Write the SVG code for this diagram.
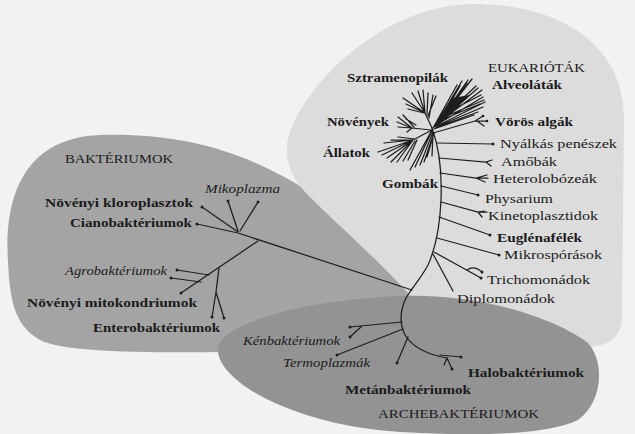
<svg xmlns="http://www.w3.org/2000/svg" width="635" height="434" viewBox="0 0 635 434">
<style>
text{font-family:"Liberation Serif","DejaVu Serif",serif;font-size:13.5px;fill:#1b1b1b}
.b{font-weight:bold}
.i{font-style:italic}
.t{fill:none;stroke:#1e1e1e;stroke-width:1.25;stroke-linecap:round}
.d{fill:#1e1e1e}
</style>
<rect width="635" height="434" fill="#f2f2f2"/>
<g id="bakteriumok-blob"><path d="M8,262 C4,200 22,138 100,135 C180,133 240,150 300,186 L440,300 L420,365 L230,352 C140,353 62,352 40,340 C14,325 10,300 8,262 Z" fill="#a4a4a4"/></g>
<g id="eukariotak-blob"><path d="M287,150 C285,110 365,8 470,4 C560,3 625,45 624,120 L622,318 C621,338 608,347 585,347 L470,335 L420,315 L407,292 C370,252 330,218 305,192 C292,178 287,165 287,150 Z" fill="#dcdcdc"/></g>
<g id="archebakteriumok-blob"><path d="M218,352 C214,325 300,300 400,296 C480,293 555,318 588,343 C605,362 603,402 578,420 C545,436 470,436 400,432 C300,426 222,385 218,352 Z" fill="#939393"/></g>

<g id="connectors">
<path class="t" d="M197,224 L238,233 L412,290"/>
<path class="t" d="M202,207 L238,232"/>
<path class="t" d="M228,201 L238,231 M258,202 L240,231"/>
<path class="t" d="M258,241 L181,293"/>
<path class="t" d="M177,270 L209,275 M171,278 L201,282"/>
<path class="t" d="M219,268 L216,292 L212,317 M216,292 L224,318"/>
<path class="t" d="M432,128 C440,150 442,175 441,200 C440,225 437,245 428,265 C420,280 410,290 405,300 C400,312 400,325 405,335 C413,348 430,355 447,358"/>
<path class="t" d="M437,143 L493,144"/>
<path class="t" d="M439,158 L486,162 L492,160 M486,162 L491,166"/>
<path class="t" d="M440,173 L476,178 L487,175 M476,178 L488,178 M476,178 L485,182"/>
<path class="t" d="M441,186 L478,195"/>
<path class="t" d="M441,202 L478,212 L484,211 M478,212 L482,217 M480,212 L487,212"/>
<path class="t" d="M439,217 L490,235"/>
<path class="t" d="M437,238 L499,255"/>
<path class="t" d="M434,252 L481,278 M467,270 Q474,265 482,272"/>
<path class="t" d="M433,254 L453,291"/>
<path class="t" d="M402,322 L350,327 M362,326 L350,337"/>
<path class="t" d="M403,329 L337,355"/>
<path class="t" d="M408,337 L397,363"/>
<path class="t" d="M440,355 L461,357 M447,358 L452,369 M447,358 L444,365"/>
<path class="t" d="M433,133 L475,121 L483,116 M475,121 L487,121 M477,121 L484,126"/>
<path class="t" stroke-width="0.9" d="M433,128 L446,109 M433,128 L457,85 M435,126 L462,81 M437,124 L467,83 M440,120 L472,79 M441,119 L476,86 M440,121 L478,88 M439,122 L482,90 M438,124 L483,97 M437,126 L485,102 M436,127 L483,107 M435,128 L478,112 M434,129 L474,115 M444,114 L468,80 M445,112 L460,86 M446,113 L481,95 M442,118 L484,100 M441,120 L480,104"/>
<path d="M433,128 L452,98 L470,95 L440,124 Z" fill="#1e1e1e"/>
<path class="t" d="M432,128 L425,113 M425,113 L403,98 M425,113 L412,93 M425,113 L418,91 M425,113 L423,90 M427,114 L428,93 M429,118 L433,95 M425,113 L406,104 M424,113 L408,109 M428,116 L436,96"/>
<path class="t" d="M431,130 L412,128 M412,128 L398,117 M412,128 L397,122 M412,128 L398,127 M414,127 L403,115 M412,128 L407,132 M416,125 L406,119"/>
<path class="t" d="M432,130 L413,140 M413,140 L378,152 M413,140 L382,155 M413,140 L387,158 M413,140 L391,162 M413,140 L397,162 M415,141 L403,161 M417,140 L408,160 M413,140 L384,143 M413,140 L391,140 M415,139 L398,137"/>
<path class="t" d="M432,130 L410,170 M432,131 L415,167 M433,132 L420,165 M434,133 L424,162 M434,133 L427,157 M433,134 L432,156"/>
<g class="d">
<circle cx="197" cy="224" r="1.5"/><circle cx="202" cy="207" r="1.5"/><circle cx="228" cy="201" r="1.5"/><circle cx="258" cy="202" r="1.5"/>
<circle cx="181" cy="293" r="1.5"/><circle cx="177" cy="270" r="1.5"/><circle cx="171" cy="278" r="1.5"/><circle cx="212" cy="317" r="1.5"/><circle cx="224" cy="318" r="1.5"/>
<circle cx="493" cy="144" r="1.5"/><circle cx="478" cy="195" r="1.5"/><circle cx="490" cy="235" r="1.5"/><circle cx="499" cy="255" r="1.5"/><circle cx="481" cy="278" r="1.5"/><circle cx="482" cy="272" r="1.5"/>
<circle cx="350" cy="327" r="1.5"/><circle cx="350" cy="337" r="1.5"/><circle cx="337" cy="355" r="1.5"/><circle cx="397" cy="363" r="1.5"/><circle cx="461" cy="357" r="1.5"/><circle cx="452" cy="369" r="1.5"/>
<circle cx="483" cy="116" r="1.3"/><circle cx="487" cy="121" r="1.3"/>
</g>
</g>

<g id="lbl-eukariotak"><text x="488" y="72" textLength="97" lengthAdjust="spacingAndGlyphs">EUKARIÓTÁK</text></g>
<g id="lbl-sztramenopilak"><text class="b" x="347" y="82" textLength="101" lengthAdjust="spacingAndGlyphs">Sztramenopilák</text></g>
<g id="lbl-alveolatak"><text class="b" x="492" y="89" textLength="70" lengthAdjust="spacingAndGlyphs">Alveoláták</text></g>
<g id="lbl-novenyek"><text class="b" x="327" y="126" textLength="62" lengthAdjust="spacingAndGlyphs">Növények</text></g>
<g id="lbl-voros-algak"><text class="b" x="495" y="126" textLength="78" lengthAdjust="spacingAndGlyphs">Vörös algák</text></g>
<g id="lbl-nyalkas"><text x="500" y="148" textLength="117" lengthAdjust="spacingAndGlyphs">Nyálkás penészek</text></g>
<g id="lbl-allatok"><text class="b" x="323" y="157" textLength="47" lengthAdjust="spacingAndGlyphs">Állatok</text></g>
<g id="lbl-amobak"><text x="501" y="166" textLength="56" lengthAdjust="spacingAndGlyphs">Amőbák</text></g>
<g id="lbl-heterolobozeak"><text x="493" y="183" textLength="104" lengthAdjust="spacingAndGlyphs">Heterolobózeák</text></g>
<g id="lbl-gombak"><text class="b" x="382" y="188" textLength="56" lengthAdjust="spacingAndGlyphs">Gombák</text></g>
<g id="lbl-physarium"><text x="485" y="203" textLength="68" lengthAdjust="spacingAndGlyphs">Physarium</text></g>
<g id="lbl-kinetoplasztidok"><text x="488" y="220" textLength="110" lengthAdjust="spacingAndGlyphs">Kinetoplasztidok</text></g>
<g id="lbl-euglenafelek"><text class="b" x="497" y="242" textLength="85" lengthAdjust="spacingAndGlyphs">Euglénafélék</text></g>
<g id="lbl-mikrosporasok"><text x="504" y="259" textLength="98" lengthAdjust="spacingAndGlyphs">Mikrospórások</text></g>
<g id="lbl-trichomonadok"><text x="487" y="284" textLength="103" lengthAdjust="spacingAndGlyphs">Trichomonádok</text></g>
<g id="lbl-diplomonadok"><text x="457" y="303" textLength="98" lengthAdjust="spacingAndGlyphs">Diplomonádok</text></g>

<g id="lbl-bakteriumok"><text x="65" y="163" textLength="108" lengthAdjust="spacingAndGlyphs">BAKTÉRIUMOK</text></g>
<g id="lbl-mikoplazma"><text class="i" x="205" y="193" textLength="75" lengthAdjust="spacingAndGlyphs">Mikoplazma</text></g>
<g id="lbl-kloroplasztok"><text class="b" x="45" y="207" textLength="148" lengthAdjust="spacingAndGlyphs">Növényi kloroplasztok</text></g>
<g id="lbl-cianobakteriumok"><text class="b" x="70" y="227" textLength="122" lengthAdjust="spacingAndGlyphs">Cianobaktériumok</text></g>
<g id="lbl-agrobakteriumok"><text class="i" x="65" y="275" textLength="102" lengthAdjust="spacingAndGlyphs">Agrobaktériumok</text></g>
<g id="lbl-mitokondriumok"><text class="b" x="27" y="307" textLength="170" lengthAdjust="spacingAndGlyphs">Növényi mitokondriumok</text></g>
<g id="lbl-enterobakteriumok"><text class="b" x="93" y="332" textLength="127" lengthAdjust="spacingAndGlyphs">Enterobaktériumok</text></g>

<g id="lbl-kenbakteriumok"><text class="i" x="243" y="345" textLength="97" lengthAdjust="spacingAndGlyphs">Kénbaktériumok</text></g>
<g id="lbl-termoplazmak"><text class="i" x="283" y="367" textLength="87" lengthAdjust="spacingAndGlyphs">Termoplazmák</text></g>
<g id="lbl-halobakteriumok"><text class="b" x="468" y="377" textLength="116" lengthAdjust="spacingAndGlyphs">Halobaktériumok</text></g>
<g id="lbl-metanbakteriumok"><text class="b" x="345" y="394" textLength="126" lengthAdjust="spacingAndGlyphs">Metánbaktériumok</text></g>
<g id="lbl-archebakteriumok"><text x="378" y="418" textLength="161" lengthAdjust="spacingAndGlyphs">ARCHEBAKTÉRIUMOK</text></g>
</svg>
